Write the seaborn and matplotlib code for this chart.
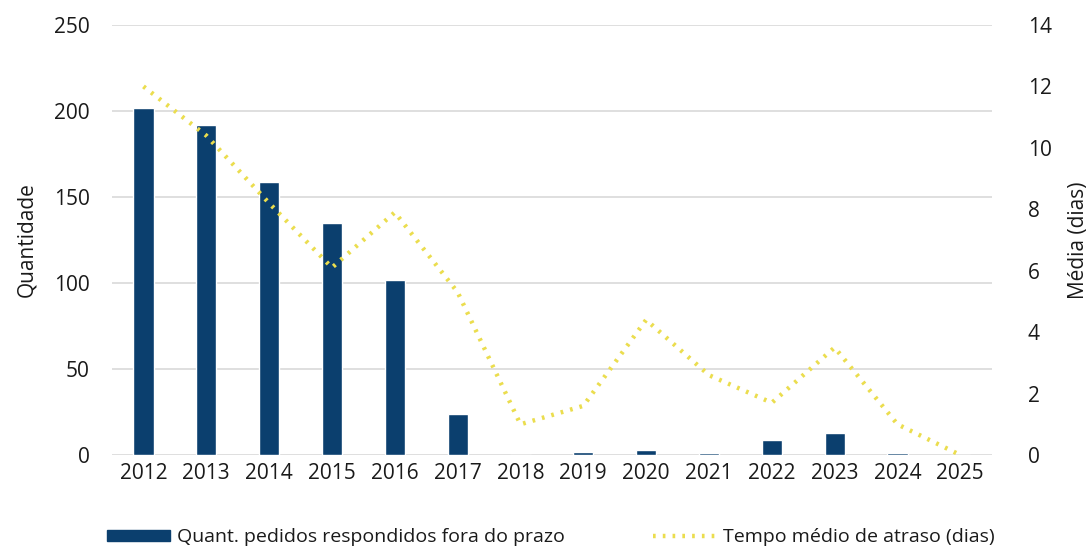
import matplotlib
matplotlib.use("Agg")
import matplotlib.pyplot as plt
import seaborn as sns
import pandas as pd
from matplotlib.patches import Patch
from matplotlib.lines import Line2D

years = ["2012", "2013", "2014", "2015", "2016", "2017", "2018",
         "2019", "2020", "2021", "2022", "2023", "2024", "2025"]
pedidos_fora_prazo = [202, 192, 159, 135, 102, 24, 0, 2, 3, 1, 9, 13, 1, 0]
tempo_medio_atraso = [12.0, 10.4, 8.2, 6.1, 7.9, 5.3, 1.0, 1.6, 4.4, 2.6, 1.7, 3.5, 1.0, 0.0]

label_bar = "Quant. pedidos respondidos fora do prazo"
label_line = "Tempo médio de atraso (dias)"

bar_color = "#0B3F6E"
line_color = "#EBDD4E"
grid_color = "#D9D9D9"
text_color = "#1A1A1A"

df = pd.DataFrame({"ano": years, "qtd": pedidos_fora_prazo, "media": tempo_medio_atraso})

sns.set_theme(style="white")
plt.rcParams["font.family"] = ["Open Sans", "DejaVu Sans"]

fig = plt.figure(figsize=(10.91, 5.52), dpi=100)
ax = fig.add_axes([0.1027, 0.1757, 0.8063, 0.779])

sns.barplot(data=df, x="ano", y="qtd", color=bar_color, width=0.32,
            saturation=1, ax=ax, zorder=2)
ax.set_ylim(0, 250)
ax.set_yticks(range(0, 251, 50))
ax.set_xlim(-0.5, len(years) - 0.5)
ax.yaxis.grid(True, color=grid_color, linewidth=1.2, zorder=0)
ax.set_axisbelow(True)
ax.set_xlabel("")
ax.set_ylabel("Quantidade", fontsize=15, color=text_color, labelpad=12)
ax.tick_params(axis="both", length=0, labelsize=15, colors=text_color)
ax.tick_params(axis="y", pad=16)
ax.tick_params(axis="x", pad=6)
for s in ax.spines.values():
    s.set_visible(False)

ax2 = ax.twinx()
sns.lineplot(data=df, x="ano", y="media", color=line_color, linewidth=3.2,
             linestyle=(0, (0.6, 1.6)), ax=ax2, zorder=3)
ax2.set_ylim(0, 14)
ax2.set_yticks(range(0, 15, 2))
ax2.set_ylabel("Média (dias)", fontsize=15, color=text_color, labelpad=12)
ax2.tick_params(axis="y", length=0, labelsize=15, colors=text_color, pad=26)
for s in ax2.spines.values():
    s.set_visible(False)

handles = [Patch(facecolor=bar_color, edgecolor=bar_color),
           Line2D([0], [0], color=line_color, linewidth=3.2, linestyle=(0, (0.6, 1.6)))]
fig.legend(handles, [label_bar, label_line], loc="center", bbox_to_anchor=(0.505, 0.027),
           ncol=2, frameon=False, fontsize=14, handlelength=3.2, handleheight=0.5,
           columnspacing=4.5, handletextpad=0.4, labelcolor=text_color)

fig.savefig("out.png", dpi=100)
